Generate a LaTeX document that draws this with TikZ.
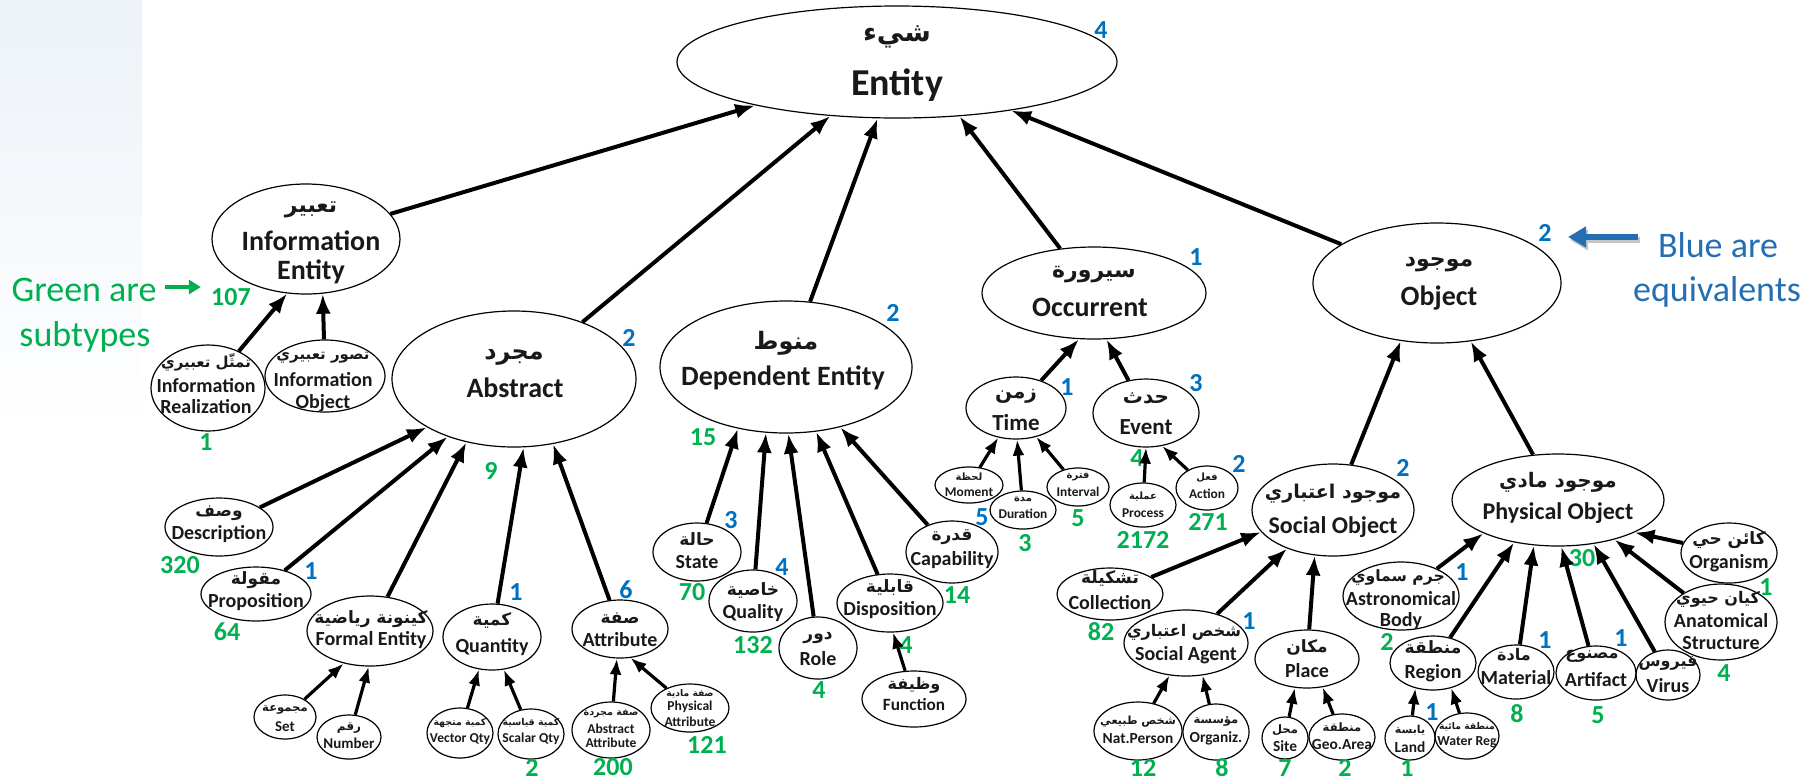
\documentclass[tikz,border=0pt]{standalone}
\usepackage{fontspec}
\setmainfont{Carlito}
\newfontfamily\arabicfont[Script=Arabic]{DejaVu Sans}
\TeXXeTstate=1
\usetikzlibrary{shapes.geometric,arrows.meta}
\definecolor{subgreen}{RGB}{0,176,80}
\definecolor{eqblue}{RGB}{0,112,192}
\definecolor{noteblue}{RGB}{36,110,178}
\definecolor{inkc}{RGB}{25,25,25}
\definecolor{slideblue}{RGB}{236,242,248}

\tikzset{
  ell/.style={draw=black, line width=0.6pt, ellipse, inner sep=0pt},
  ent/.style={font=\bfseries\fontsize{#1}{#1}\selectfont, text=inkc, inner sep=0pt},
  art/.style={font=\arabicfont\bfseries\fontsize{#1}{#1}\selectfont, text=inkc, inner sep=0pt},
  cnt/.style={font=\bfseries\fontsize{13}{13}\selectfont, inner sep=0pt},
  arr/.style={line width=2pt, -{Latex[length=10pt,width=7.5pt]}},
  sarr/.style={line width=1.6pt, -{Latex[length=8pt,width=6pt]}},
  note/.style={font=\fontsize{18}{18}\selectfont, inner sep=0pt},
}
% ellipse: name, x, y, half width (px), half height (px)
\newcommand\bub[5]{\node[ell,minimum width=#4pt,minimum height=#5pt] (#1) at (#2,#3) {};}
% Arabic line: name, x, y, size, text (right-to-left group given in the text)
\newcommand\artx[5]{\node[art=#4] (#1) at (#2,#3) {#5};}
% English line: name, x, y, size, text
\newcommand\entx[5]{\node[ent=#4] (#1) at (#2,#3) {#5};}
% counts
\newcommand\gnum[4]{\node[cnt,text=subgreen] (#1) at (#2,#3) {#4};}
\newcommand\bnum[4]{\node[cnt,text=eqblue] (#1) at (#2,#3) {#4};}

\begin{document}
\begin{tikzpicture}[x=0.5pt,y=-0.5pt]
\useasboundingbox (0,0) rectangle (1819,783);
\shade[top color=slideblue, bottom color=white] (0,0) rectangle (142,430);

% ---------- top level ----------
\bub{ent}{897}{62}{220}{56}
\artx{entA}{897}{37}{13.5}{\beginR شيء\endR}
\entx{entE}{897}{85}{19}{Entity}

% ---------- information ----------
\bub{inf}{306}{239}{94}{55}
\artx{infA}{311}{210}{11}{\beginR تعبير\endR}
\entx{infE}{311}{241}{14}{Information}
\entx{infE2}{311}{272}{14}{Entity}
\bub{irl}{208}{388}{57}{43}
\artx{irlA}{206}{362}{7.5}{\beginR تمثّل تعبيري\endR}
\entx{irlE}{206}{386}{10}{Information}
\entx{irlE2}{206}{407}{10}{Realization}
\bub{iob}{325}{376}{60}{36}
\artx{iobA}{323}{358}{7.5}{\beginR تصور تعبيري\endR}
\entx{iobE}{323}{380}{10}{Information}
\entx{iobE2}{323}{403}{10}{Object}

% ---------- abstract ----------
\bub{abs}{514}{379}{122}{68}
\artx{absA}{514}{357}{12}{\beginR مجرد\endR}
\entx{absE}{515}{388}{14}{Abstract}
\bub{dsc}{219}{527}{54}{29}
\artx{dscA}{219}{513}{8.5}{\beginR وصف\endR}
\entx{dscE}{219}{534}{10}{Description}
\bub{prp}{256}{594}{55}{27}
\artx{prpA}{256}{580}{8.5}{\beginR مقولة\endR}
\entx{prpE}{256}{602}{10}{Proposition}
\bub{frm}{370}{631}{63}{35}
\artx{frmA}{371}{619}{8.5}{\beginR كينونة رياضية\endR}
\entx{frmE}{371}{640}{10}{Formal Entity}
\bub{qty}{492}{637}{49}{33}
\artx{qtyA}{492}{620}{8.5}{\beginR كمية\endR}
\entx{qtyE}{492}{647}{10}{Quantity}
\bub{atr}{620}{629}{48}{29}
\artx{atrA}{620}{618}{8.5}{\beginR صفة\endR}
\entx{atrE}{620}{640}{10}{Attribute}
\bub{set}{285}{717}{31}{22}
\artx{setA}{285}{710}{5.8}{\beginR مجموعة\endR}
\entx{setE}{285}{727}{7.5}{Set}
\bub{nmb}{349}{737}{32}{22}
\artx{nmbA}{349}{728}{6}{\beginR رقم\endR}
\entx{nmbE}{349}{743}{7.5}{Number}
\bub{vec}{460}{733}{33}{25}
\artx{vecA}{460}{723}{4.7}{\beginR كمية متجهة\endR}
\entx{vecE}{460}{739}{6.8}{Vector Qty}
\bub{scl}{531}{734}{33}{25}
\artx{sclA}{531}{723}{4.7}{\beginR كمية قياسية\endR}
\entx{sclE}{531}{739}{6.8}{Scalar Qty}
\bub{aat}{611}{730}{39}{28}
\artx{aatA}{611}{714}{4.8}{\beginR صفة مجردة\endR}
\entx{aatE}{611}{729}{6.8}{Abstract}
\entx{aatE2}{611}{743}{6.8}{Attribute}
\bub{pat}{690}{708}{39}{24}
\artx{patA}{690}{694}{4.6}{\beginR صفة مادية\endR}
\entx{patE}{690}{707}{6.8}{Physical}
\entx{patE2}{690}{722}{6.8}{Attribute}

% ---------- dependent ----------
\bub{dep}{786}{367}{126}{66}
\artx{depA}{786}{343}{12}{\beginR منوط\endR}
\entx{depE}{783}{378}{14}{Dependent Entity}
\bub{stt}{697}{552}{44}{29}
\artx{sttA}{697}{539}{8.5}{\beginR حالة\endR}
\entx{sttE}{697}{562}{10}{State}
\bub{qlt}{753}{601}{44}{31}
\artx{qltA}{753}{590}{8.5}{\beginR خاصية\endR}
\entx{qltE}{753}{613}{10}{Quality}
\bub{rol}{818}{648}{39}{31}
\artx{rolA}{818}{638}{8.5}{\beginR دور\endR}
\entx{rolE}{818}{659}{10}{Role}
\bub{dsp}{890}{603}{53}{29}
\artx{dspA}{890}{588}{8.5}{\beginR قابلية\endR}
\entx{dspE}{890}{610}{10}{Disposition}
\bub{fnc}{914}{699}{52}{28}
\artx{fncA}{914}{685}{8}{\beginR وظيفة\endR}
\entx{fncE}{914}{705}{8.6}{Function}
\bub{cap}{952}{552}{46}{31}
\artx{capA}{952}{537}{8.5}{\beginR قدرة\endR}
\entx{capE}{952}{560}{10}{Capability}

% ---------- occurrent ----------
\bub{occ}{1094}{293}{112}{46}
\artx{occA}{1094}{275}{11}{\beginR سيرورة\endR}
\entx{occE}{1090}{307}{14}{Occurrent}
\bub{tim}{1016}{408}{50}{31}
\artx{timA}{1016}{396}{10}{\beginR زمن\endR}
\entx{timE}{1016}{423}{11.5}{Time}
\bub{evt}{1146}{413}{53}{34}
\artx{evtA}{1146}{398}{10}{\beginR حدث\endR}
\entx{evtE}{1146}{427}{11.5}{Event}
\bub{mom}{969}{485}{34}{18}
\artx{momA}{969}{477}{5}{\beginR لحظة\endR}
\entx{momE}{969}{492}{6.7}{Moment}
\bub{dur}{1023}{510}{33}{19}
\artx{durA}{1023}{499}{5}{\beginR مدة\endR}
\entx{durE}{1023}{514}{6.7}{Duration}
\bub{itv}{1078}{487}{31}{19}
\artx{itvA}{1078}{477}{5}{\beginR فترة\endR}
\entx{itvE}{1078}{492}{6.7}{Interval}
\bub{prc}{1143}{505}{33}{22}
\artx{prcA}{1143}{497}{5}{\beginR عملية\endR}
\entx{prcE}{1143}{513}{6.7}{Process}
\bub{act}{1207}{488}{31}{22}
\artx{actA}{1207}{478}{5}{\beginR فعل\endR}
\entx{actE}{1207}{494}{6.7}{Action}

% ---------- object ----------
\bub{obj}{1437}{283}{124}{60}
\artx{objA}{1439}{265}{11}{\beginR موجود\endR}
\entx{objE}{1439}{298}{14}{Object}
\bub{soc}{1333}{510}{81}{46}
\artx{socA}{1333}{494}{9.5}{\beginR موجود اعتباري\endR}
\entx{socE}{1333}{527}{12}{Social Object}
\bub{phy}{1558}{500}{106}{46}
\artx{phyA}{1558}{482}{10}{\beginR موجود مادي\endR}
\entx{phyE}{1558}{513}{12}{Physical Object}
\bub{col}{1110}{594}{53}{26}
\artx{colA}{1110}{578}{8.5}{\beginR تشكيلة\endR}
\entx{colE}{1110}{603}{10}{Collection}
\bub{sag}{1186}{643}{62}{33}
\artx{sagA}{1184}{632}{8}{\beginR شخص اعتباري\endR}
\entx{sagE}{1186}{655}{10}{Social Agent}
\bub{plc}{1307}{659}{52}{29}
\artx{plcA}{1307}{647}{8.5}{\beginR مكان\endR}
\entx{plcE}{1307}{671}{10}{Place}
\bub{npr}{1138}{731}{44}{29}
\artx{nprA}{1138}{722}{5.6}{\beginR شخص طبيعي\endR}
\entx{nprE}{1138}{739}{7.7}{Nat.Person}
\bub{org}{1216}{732}{33}{28}
\artx{orgA}{1216}{721}{5.8}{\beginR مؤسسة\endR}
\entx{orgE}{1216}{738}{7.7}{Organiz.}
\bub{sit}{1285}{738}{23}{21}
\artx{sitA}{1285}{730}{5.8}{\beginR محل\endR}
\entx{sitE}{1285}{746}{7.7}{Site}
\bub{geo}{1342}{737}{33}{23}
\artx{geoA}{1342}{727}{5.8}{\beginR منطقة\endR}
\entx{geoE}{1342}{744}{7.7}{Geo.Area}
\bub{ast}{1401}{596}{58}{34}
\artx{astA}{1398}{577}{7.8}{\beginR جرم سماوي\endR}
\entx{astE}{1401}{599}{10}{Astronomical}
\entx{astE2}{1401}{621}{10}{Body}
\bub{reg}{1433}{663}{43}{27}
\artx{regA}{1433}{647}{8.5}{\beginR منطقة\endR}
\entx{regE}{1433}{673}{10}{Region}
\bub{lnd}{1410}{738}{25}{22}
\artx{lndA}{1410}{730}{5.5}{\beginR يابسة\endR}
\entx{lndE}{1410}{747}{7.7}{Land}
\bub{wtr}{1467}{736}{32}{23}
\artx{wtrA}{1467}{727}{4.6}{\beginR منطقة مائية\endR}
\entx{wtrE}{1467}{742}{6.9}{Water Reg}
\bub{mat}{1516}{672}{38}{27}
\artx{matA}{1514}{655}{8}{\beginR مادة\endR}
\entx{matE}{1516}{678}{10}{Material}
\bub{art}{1596}{673}{40}{27}
\artx{artA}{1592}{656}{8}{\beginR مصنوع\endR}
\entx{artE}{1596}{680}{10}{Artifact}
\bub{vir}{1668}{675}{32}{25}
\artx{virA}{1668}{663}{8}{\beginR فيروس\endR}
\entx{virE}{1668}{686}{10}{Virus}
\bub{ana}{1721}{622}{56}{38}
\artx{anaA}{1718}{599}{8}{\beginR كيان حيوي\endR}
\entx{anaE}{1721}{621}{10}{Anatomical}
\entx{anaE2}{1721}{643}{10}{Structure}
\bub{orm}{1729}{553}{48}{30}
\artx{ormA}{1729}{540}{8.5}{\beginR كائن حي\endR}
\entx{ormE}{1729}{563}{10}{Organism}

% ---------- equivalents (blue) ----------
\bnum{bEnt}{1101}{30}{4}
\bnum{bAbs}{629}{338}{2}
\bnum{bDep}{893}{313}{2}
\bnum{bOcc}{1196}{257}{1}
\bnum{bObj}{1545}{233}{2}
\bnum{bTim}{1067}{387}{1}
\bnum{bEvt}{1196}{383}{3}
\bnum{bPrp}{311}{571}{1}
\bnum{bQty}{516}{592}{1}
\bnum{bAtr}{626}{590}{6}
\bnum{bStt}{731}{520}{3}
\bnum{bQlt}{782}{567}{4}
\bnum{bMom}{982}{517}{5}
\bnum{bAct}{1239}{464}{2}
\bnum{bSoc}{1403}{468}{2}
\bnum{bSag}{1249}{621}{1}
\bnum{bAst}{1462}{572}{1}
\bnum{bLnd}{1432}{712}{1}
\bnum{bMat}{1545}{640}{1}
\bnum{bArt}{1621}{638}{1}

% ---------- subtypes (green) ----------
\gnum{gInf}{231}{297}{107}
\gnum{gIrl}{206}{442}{1}
\gnum{gDsc}{180}{565}{320}
\gnum{gPrp}{227}{632}{64}
\gnum{gAbs}{491}{471}{9}
\gnum{gScl}{532}{768}{2}
\gnum{gAat}{613}{767}{200}
\gnum{gPat}{707}{745}{121}
\gnum{gDep}{703}{437}{15}
\gnum{gStt}{692}{592}{70}
\gnum{gQlt}{753}{645}{132}
\gnum{gRol}{819}{690}{4}
\gnum{gDsp}{906}{645}{4}
\gnum{gCap}{957}{595}{14}
\gnum{gDur}{1025}{543}{3}
\gnum{gItv}{1078}{518}{5}
\gnum{gEvt}{1137}{458}{4}
\gnum{gPrc}{1143}{540}{2172}
\gnum{gAct}{1208}{522}{271}
\gnum{gCol}{1101}{632}{82}
\gnum{gNpr}{1143}{768}{12}
\gnum{gOrg}{1222}{768}{8}
\gnum{gSit}{1285}{768}{7}
\gnum{gGeo}{1345}{768}{2}
\gnum{gLnd}{1407}{768}{1}
\gnum{gAst}{1387}{642}{2}
\gnum{gMat}{1517}{714}{8}
\gnum{gArt}{1598}{715}{5}
\gnum{gPhy}{1582}{558}{30}
\gnum{gAna}{1724}{673}{4}
\gnum{gOrm}{1766}{587}{1}

% ---------- side notes ----------
\node[note,text=subgreen] (greenA) at (84,290) {Green are};
\node[note,text=subgreen] (greenB) at (85,337) {subtypes};
\node[note,text=noteblue] (blueA) at (1718,245) {Blue are};
\node[note,text=noteblue] (blueB) at (1717,292) {equivalents};
\draw[subgreen, line width=2.2pt, -{Triangle[length=6pt,width=7pt]}, shorten <=4pt, shorten >=5pt]
  ([yshift=1.5pt]greenA.east) -- ([yshift=1.5pt]greenA.east -| gInf.west);
\draw[gray!45, line width=3pt, -{Triangle[length=9pt,width=10pt]}, shorten <=10pt, shorten >=8pt]
  ([xshift=1pt,yshift=2.5pt]blueA.west) -- ([xshift=1pt,yshift=2.5pt]blueA.west -| bObj.east);
\draw[noteblue, line width=3pt, -{Triangle[length=9pt,width=10pt]}, shorten <=10pt, shorten >=8pt]
  ([yshift=4pt]blueA.west) -- ([yshift=4pt]blueA.west -| bObj.east);

% ---------- is-a links ----------
\draw[arr] (inf) -- (ent.197);
\draw[arr] (abs) -- (ent.219);
\draw[arr] (dep) -- (ent.251);
\draw[arr] (occ) -- (ent.319);
\draw[arr] (obj) -- (ent.337);

\draw[arr] (irl) -- (inf.251);
\draw[arr] (iob) -- (inf.287);
\draw[arr] (dsc) -- (abs.209);
\draw[arr] (prp) -- (abs.221);
\draw[arr] (frm) -- (abs.233);
\draw[arr] (qty) -- (abs.278);
\draw[arr] (atr) -- (abs.301);
\draw[arr] (stt) -- (dep.232);
\draw[arr] (qlt) -- (dep.253);
\draw[arr] (rol) -- (dep.272);
\draw[arr] (dsp) -- (dep.295);
\draw[arr] (cap) -- (dep.312);
\draw[arr] (tim) -- (occ.252);
\draw[arr] (evt) -- (occ.285);
\draw[arr] (soc) -- (obj.238);
\draw[arr] (phy) -- (obj.300);
\draw[arr] (col) -- (soc.197);
\draw[arr] (sag) -- (soc.220);
\draw[arr] (plc) -- (soc.248);
\draw[arr] (ast) -- (phy.204);
\draw[arr] (reg) -- (phy.224);
\draw[arr] (mat) -- (phy.242);
\draw[arr] (art) -- (phy.274);
\draw[arr] (vir) -- (phy.309);
\draw[arr] (ana) -- (phy.325);
\draw[arr] (orm) -- (phy.337);

\draw[sarr] (set) -- (frm.231);
\draw[sarr] (nmb) -- (frm.268);
\draw[sarr] (vec) -- (qty.248);
\draw[sarr] (scl) -- (qty.290);
\draw[sarr] (aat) -- (atr.264);
\draw[sarr] (pat) -- (atr.290);
\draw[sarr] (fnc) -- (dsp.276);
\draw[sarr] (mom) -- (tim.239);
\draw[sarr] (dur) -- (tim.272);
\draw[sarr] (itv) -- (tim.305);
\draw[sarr] (prc) -- (evt.270);
\draw[sarr] (act) -- (evt.296);
\draw[sarr] (npr) -- (sag.243);
\draw[sarr] (org) -- (sag.297);
\draw[sarr] (sit) -- (plc.247);
\draw[sarr] (geo) -- (plc.299);
\draw[sarr] (lnd) -- (reg.235);
\draw[sarr] (wtr) -- (reg.306);
\end{tikzpicture}
\end{document}
